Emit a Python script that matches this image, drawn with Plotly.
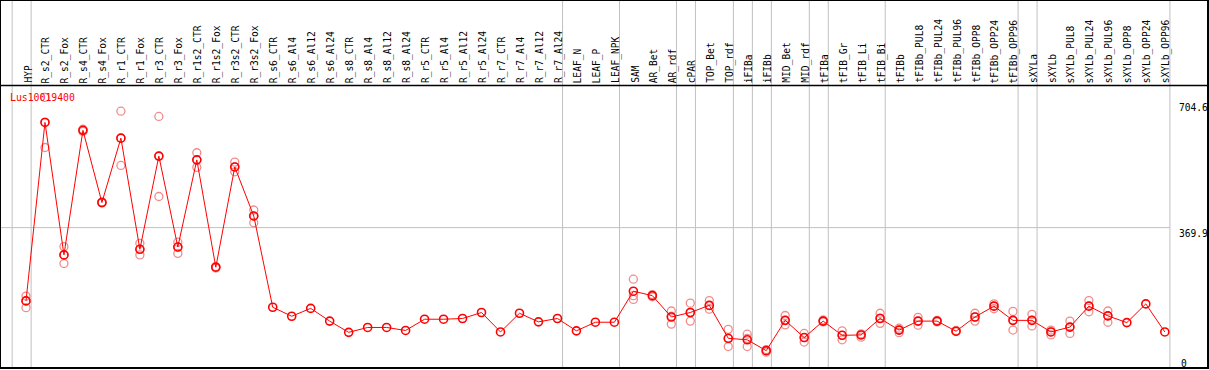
import plotly.graph_objects as go

title = "Lus10019400"

cats = ["HYP", "R_s2_CTR", "R_s2_Fox", "R_s4_CTR", "R_s4_Fox", "R_r1_CTR", "R_r1_Fox",
        "R_r3_CTR", "R_r3_Fox", "R_r1s2_CTR", "R_r1s2_Fox", "R_r3s2_CTR", "R_r3s2_Fox",
        "R_s6_CTR", "R_s6_Al4", "R_s6_Al12", "R_s6_Al24", "R_s8_CTR", "R_s8_Al4", "R_s8_Al12",
        "R_s8_Al24", "R_r5_CTR", "R_r5_Al4", "R_r5_Al12", "R_r5_Al24", "R_r7_CTR", "R_r7_Al4",
        "R_r7_Al12", "R_r7_Al24", "LEAF_N", "LEAF_P", "LEAF_NPK", "SAM", "AR_Bet", "AR_rdf",
        "cPAR", "TOP_Bet", "TOP_rdf", "iFIBa", "iFIBb", "MID_Bet", "MID_rdf", "tFIBa",
        "tFIB_Gr", "tFIB_Li", "tFIB_Bi", "tFIBb", "tFIBb_PUL8", "tFIBb_PUL24", "tFIBb_PUL96",
        "tFIBb_OPP8", "tFIBb_OPP24", "tFIBb_OPP96", "sXYLa", "sXYLb", "sXYLb_PUL8",
        "sXYLb_PUL24", "sXYLb_PUL96", "sXYLb_OPP8", "sXYLb_OPP24", "sXYLb_OPP96"]

means = [174, 651, 297, 630, 437, 609, 312, 561, 318, 551, 264, 532, 401,
         157, 133, 154, 120, 90, 103, 103, 95, 125, 125, 127, 143, 91, 141, 118, 127,
         94, 117, 117, 200, 188, 131, 143, 162, 74, 70, 41, 122, 76, 120,
         82, 83, 127, 96, 120, 120, 93, 131, 160, 122, 122, 91, 104, 160, 134,
         116, 166, 91]

reps = [[187, 174, 156], [718, 652, 584], [319, 297, 274], [633, 630, 627], [438, 437, 436],
        [681, 609, 536], [328, 312, 297], [667, 561, 453], [331, 318, 301], [570, 551, 531],
        [266, 264, 262], [545, 532, 519], [417, 401, 383],
        [], [], [], [], [], [], [], [], [], [], [], [], [], [], [], [],
        [], [], [],
        [232, 188, 178], [191, 188, 185], [147, 133, 112], [168, 143, 120], [175, 162, 152],
        [98, 73, 52], [85, 74, 52], [44, 41, 37], [135, 122, 110], [87, 76, 64], [123, 120, 118],
        [94, 82, 70], [86, 83, 77], [141, 128, 114], [101, 96, 89], [130, 120, 109],
        [122, 120, 118], [95, 93, 92], [141, 131, 120], [166, 160, 153], [146, 122, 96],
        [138, 122, 107], [96, 91, 83], [120, 104, 87], [175, 160, 145], [147, 134, 117],
        [], [], []]

# last category of each group (separator drawn just after it); "" = line before first
group_last = ["", "HYP", "R_r7_Al24", "LEAF_NPK", "AR_rdf", "cPAR", "TOP_rdf", "iFIBa",
              "iFIBb", "MID_rdf", "tFIBa", "tFIB_Bi", "tFIBb_OPP96", "sXYLa", "sXYLb_OPP96"]

y_ticks = [704.6, 369.9, 0]

xs = list(range(len(cats)))
rx, ry = [], []
for i, r in enumerate(reps):
    for v in r:
        rx.append(i)
        ry.append(v)

fig = go.Figure()
fig.add_trace(go.Scatter(x=rx, y=ry, mode="markers", hoverinfo="skip",
                         marker=dict(symbol="circle-open", size=8, color="rgb(240,140,140)",
                                     line=dict(width=1.3, color="rgb(240,140,140)"))))
fig.add_trace(go.Scatter(x=xs, y=means, mode="lines+markers", hoverinfo="skip",
                         line=dict(color="#ff0000", width=1),
                         marker=dict(symbol="circle-open", size=8, color="#ff0000",
                                     line=dict(width=1.6, color="#ff0000"))))

xmin, xmax = -1.37, 62.276
ymin, ymax = -5.35, 978.3
H = 368.0
def ypaper(px):
    return (H - px) / H

shapes = []
off = 0.27
for g in group_last:
    idx = cats.index(g) if g else -1
    shapes.append(dict(type="line", xref="x", yref="paper", x0=idx + off, x1=idx + off,
                       y0=0, y1=1, line=dict(color="#c0c0c0", width=1), layer="below"))
last_sep = cats.index(group_last[-1]) + off
shapes.append(dict(type="line", xref="x", yref="y", x0=xmin, x1=last_sep,
                   y0=y_ticks[1], y1=y_ticks[1], line=dict(color="#c0c0c0", width=1),
                   layer="below"))
shapes.append(dict(type="line", xref="paper", yref="paper", x0=0, x1=1,
                   y0=ypaper(85.5), y1=ypaper(85.5), line=dict(color="black", width=1.5)))
shapes.append(dict(type="rect", xref="paper", yref="paper", x0=0, x1=1, y0=0, y1=1,
                   line=dict(color="black", width=2)))

mono = "DejaVu Sans Mono"
annotations = []
for i, c in enumerate(cats):
    annotations.append(dict(x=i, y=ypaper(84), xref="x", yref="paper", text=c,
                            textangle=-90, showarrow=False, xanchor="center", yanchor="bottom",
                            borderpad=0, xshift=1.5,
                            font=dict(family=mono, size=9.6, color="black")))
annotations.append(dict(x=9 / 1208, y=ypaper(97), xref="paper", yref="paper", text=title,
                        showarrow=False, xanchor="left", yanchor="middle", borderpad=0,
                        font=dict(family=mono, size=9.8, color="#ff0000")))
for v in y_ticks:
    annotations.append(dict(x=1178 / 1208, y=v, xref="paper", yref="y", text=f"{v:g}",
                            showarrow=False, xanchor="left",
                            yanchor="top" if v > 0 else "bottom", borderpad=0,
                            xshift=0 if v > 0 else 2,
                            yshift=1 if v > 0 else -4,
                            font=dict(family=mono, size=9.6, color="black")))

fig.update_layout(width=1209, height=370, margin=dict(l=0, r=1, t=0, b=2),
                  xaxis=dict(range=[xmin, xmax], visible=False, fixedrange=True),
                  yaxis=dict(range=[ymin, ymax], visible=False, fixedrange=True),
                  showlegend=False, plot_bgcolor="white", paper_bgcolor="white",
                  shapes=shapes, annotations=annotations, hovermode=False)

fig.write_html("out.html", config={"displayModeBar": False},
               post_script="document.body.style.margin='0';document.body.style.overflow='hidden';")
